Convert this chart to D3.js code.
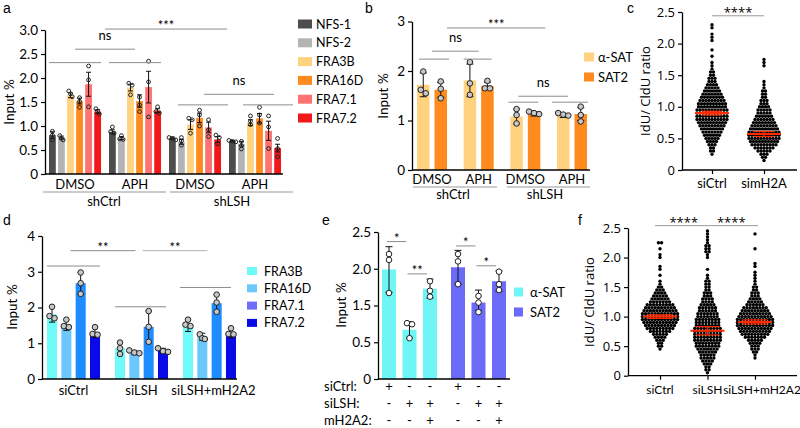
<!DOCTYPE html>
<html><head><meta charset="utf-8">
<script src="https://cdn.jsdelivr.net/npm/d3@7"></script>
<style>body{margin:0;background:#fff}svg{display:block}</style>
</head><body>
<svg id="chart" width="800" height="428"></svg>
<script>
// ---------------- DATA ----------------
// Panel a
const aGroups = ["shCtrl|DMSO","shCtrl|APH","shLSH|DMSO","shLSH|APH"];
const aSeries = ["NFS-1","NFS-2","FRA3B","FRA16D","FRA7.1","FRA7.2"];
const aColors = ["#4d4d4d","#b4b4b4","#ffd27f","#ff8a1e","#ff7272","#f01818"];
const aMeans = [[0.81,0.76,1.64,1.52,1.87,1.30],[0.88,0.75,1.80,1.52,1.81,1.32],[0.75,0.67,1.03,1.17,0.97,0.72],[0.69,0.63,1.07,1.16,0.90,0.54]];
const aErrs  = [[0.07,0.03,0.05,0.06,0.25,0.04],[0.04,0.03,0.07,0.13,0.33,0.04],[0.02,0.05,0.10,0.10,0.11,0.06],[0.01,0.05,0.06,0.10,0.20,0.08]];
const aReps = [
  [[0.89,0.81,0.71],[0.80,0.74,0.71],[1.73,1.67,1.61],[1.59,1.51,1.39],[2.25,1.96,1.40],[1.36,1.31,1.25]],
  [[0.98,0.88,0.85],[0.80,0.73,0.72],[1.89,1.85,1.65],[1.60,1.44,1.30],[2.35,1.92,1.19],[1.40,1.30,1.27]],
  [[0.76,0.74,0.71],[0.76,0.69,0.60],[1.16,1.13,0.85],[1.33,1.23,1.00],[1.13,0.92,0.78],[0.81,0.76,0.63]],
  [[0.70,0.68,0.67],[0.68,0.59,0.52],[1.21,1.10,1.03],[1.39,1.23,1.06],[1.21,0.98,0.53],[0.74,0.53,0.36]]
];
const aTicks = [0,0.5,1,1.5,2,2.5,3];
// Panel b
const bGroups = ["shCtrl|DMSO","shCtrl|APH","shLSH|DMSO","shLSH|APH"];
const bSeries = ["α-SAT","SAT2"];
const bColors = ["#ffd27f","#ff8a1e"];
const bMeans = [[1.72,1.62],[1.81,1.70],[1.08,1.13],[1.09,1.13]];
const bErrs  = [[0.24,0.15],[0.33,0.07],[0.15,0.04],[0.03,0.13]];
const bReps = [
  [[1.99,1.62,1.55],[1.79,1.64,1.45]],
  [[2.18,1.75,1.52],[1.80,1.65,1.65]],
  [[1.23,1.11,0.94],[1.18,1.15,1.13]],
  [[1.15,1.12,1.10],[1.28,1.11,0.98]]
];
const bTicks = [0,1,2,3];
// Panel c
const cGroups = ["siCtrl","simH2A"];
const swarmBins = [0.05,0.10,0.15,0.20,0.25,0.30,0.35,0.40,0.45,0.50,0.55,0.60,0.65,0.70,0.75,0.80,0.85,0.90,0.95,1.00,
  1.05,1.10,1.15,1.20,1.25,1.30,1.35,1.40,1.45,1.50,1.55,1.60,1.65,1.70,1.75,1.80,1.85,1.90,1.95,2.00,
  2.05,2.10,2.15,2.20,2.25,2.30,2.35,2.40,2.45,2.50];
const cCounts = [
  [0,0,0,0,1,2,2,3,4,5, 6,7,8,9,10,11,11,11,11,10, 10,9,8,7,6,5,4,3,3,2, 2,1,1,1,0,1,0,1,0,0, 1,1,1,0,1,1,0,0,0,0],
  [0,0,1,2,3,5,7,9,10,11, 11,11,10,9,8,7,6,5,5,4, 3,3,2,2,2,1,1,1,0,0, 0,0,1,1,1,0,0,0,0,0, 0,0,0,0,0,0,0,0,0,0]
];
const cMeans = [0.90,0.57];
const cErrs = [0.03,0.04];
const cTicks = [0,0.5,1,1.5,2,2.5];
// Panel d
const dGroups = ["siCtrl","siLSH","siLSH+mH2A2"];
const dSeries = ["FRA3B","FRA16D","FRA7.1","FRA7.2"];
const dColors = ["#70fafa","#6cc8fc","#1c8cff","#0a0ae8"];
const dLegendColors = ["#70fafa","#6cc8fc","#6e6efa","#0a0ae8"];
const dMeans = [[1.81,1.51,2.68,1.31],[0.86,0.74,1.46,0.79],[1.50,1.18,2.12,1.28]];
const dErrs  = [[0.22,0.15,0.30,0.15],[0.16,0.06,0.44,0.07],[0.17,0.10,0.24,0.13]];
const dReps = [
  [[2.02,1.76,1.70],[1.66,1.48,1.45],[2.98,2.68,2.38],[1.45,1.26,1.24]],
  [[1.02,0.86,0.70],[0.80,0.74,0.72],[1.90,1.46,1.04],[0.86,0.78,0.76]],
  [[1.66,1.52,1.48],[1.25,1.14,1.12],[2.36,2.14,1.88],[1.42,1.26,1.25]]
];
const dTicks = [0,1,2,3,4];
// Panel e
const eGroups = ["α-SAT","SAT2"];
const eConds = ["c1","c2","c3"];
const eColors = ["#6ef6f6","#6b6bf8"];
const eMeans = [[1.99,0.84,1.73],[2.02,1.54,1.83]];
const eErrs  = [[0.31,0.22,0.13],[0.23,0.17,0.14]];
const eReps = [
  [[2.20,2.12,1.67],[1.02,0.99,0.61],[1.83,1.70,1.62]],
  [[2.20,2.10,1.79],[1.63,1.54,1.32],[1.96,1.79,1.71]]
];
const eTicks = [0,0.5,1.5,2.0,2.5];
const eRows = ["siCtrl:","siLSH:","mH2A2:"];
const eSigns = [["+","-","-"],["-","+","+"],["-","-","+"]];
// Panel f
const fGroups = ["siCtrl","siLSH","siLSH+mH2A2"];
const fCounts = [
  [0,0,0,0,0,0,0,0,1,2, 2,3,4,5,7,9,10,11,12,12, 12,11,10,9,7,6,5,4,3,2, 1,1,0,1,0,1,1,0,0,1, 1,0,1,0,2,0,0,0,0,0],
  [1,2,2,3,4,5,5,6,7,8, 8,9,9,9,9,9,8,8,8,7, 7,6,6,5,4,4,3,3,2,2, 2,2,1,1,0,1,0,0,0,1, 1,2,2,2,1,1,1,1,1,0],
  [0,0,0,0,0,1,1,2,3,3, 4,5,7,9,10,11,12,12,12,11, 10,9,8,6,5,4,3,3,2,2, 1,1,1,1,1,0,1,1,0,0, 0,0,1,0,0,0,0,1,0,0]
];
const fMeans = [1.00,0.76,0.91];
const fErrs = [0.03,0.07,0.035];
const fTicks = [0,0.5,1,1.5,2,2.5];

// ---------------- DRAWING ----------------
const svg = d3.select("#chart");
const FB = "Lato, 'Open Sans', sans-serif";   // bar panels
const FS = "'Open Sans', 'Noto Sans', sans-serif"; // scatter panels
const fmt1 = d => d === 0 ? "0" : d3.format(".1f")(d);

function txt(t, x, y, o = {}) {
  const el = svg.append("text").attr("x", x).attr("y", y).text(t)
    .attr("font-family", o.family || FB).attr("font-size", o.size || 13)
    .attr("text-anchor", o.anchor || "middle").attr("fill", o.fill || "#000");
  if (o.rotate) el.attr("transform", `rotate(-90,${x},${y})`);
  return el;
}
function line(x1, y1, x2, y2, stroke = "#000", sw = 1) {
  svg.append("line").attr("x1", x1).attr("y1", y1).attr("x2", x2).attr("y2", y2)
    .attr("stroke", stroke).attr("stroke-width", sw);
}
function yAxis(scale, x, ticks, fmt, fs, family) {
  const g = svg.append("g").attr("transform", `translate(${x},0)`)
    .call(d3.axisLeft(scale).tickValues(ticks).tickFormat(fmt).tickSize(4).tickSizeOuter(0));
  g.select(".domain").attr("stroke", "#000").attr("stroke-width", 1.3);
  g.selectAll(".tick line").attr("stroke", "#000").attr("stroke-width", 1.2);
  g.selectAll(".tick text").attr("font-size", fs).attr("font-family", family).attr("fill", "#000");
  return g;
}
function barSet(groups, series, colors, means, errs, reps, xo, xi, y, st) {
  groups.forEach((g, gi) => series.forEach((s, si) => {
    const m = means[gi][si], e = errs[gi][si];
    const x = xo(g) + xi(s), w = xi.bandwidth(), cx = x + w / 2;
    const col = st.byGroup ? colors[gi] : colors[si];
    svg.append("rect").attr("x", x).attr("y", y(m)).attr("width", w).attr("height", y(0) - y(m)).attr("fill", col);
    line(cx, y(m + e), cx, y(m - e), "#111", 1);
    line(cx - st.cap, y(m + e), cx + st.cap, y(m + e), "#111", 1);
    line(cx - st.cap, y(m - e), cx + st.cap, y(m - e), "#111", 1);
    const rv = reps[gi][si];
    rv.forEach((v, k) => {
      let dx = 0;
      rv.forEach((u, j) => { if (j !== k && Math.abs(y(u) - y(v)) < st.r * 1.6) dx += (k < j ? -1 : 1) * st.r * 0.9; });
      svg.append("circle").attr("cx", cx + dx).attr("cy", y(v)).attr("r", st.r)
        .attr("fill", st.dotFill).attr("stroke", "#222").attr("stroke-width", 1);
    });
  }));
}
function sigLine(x1, x2, yv, label, lab, col = "#8c8c8c", fs = 13) {
  line(x1, yv, x2, yv, col, 1);
  if (label) {
    const star = label.includes("*");
    txt(label, (x1 + x2) / 2 + (lab || 0), star ? yv + 1 : yv - 9, { size: fs, family: FB });
  }
}
function swarm(counts, cx, y, dx, r) {
  counts.forEach((n, i) => {
    const v = swarmBins[i];
    for (let k = 0; k < n; k++) {
      svg.append("circle").attr("cx", cx + (k - (n - 1) / 2) * dx).attr("cy", y(v)).attr("r", r).attr("fill", "#000");
    }
  });
}
function meanBar(cx, y, m, e, half, cap) {
  const red = "#ff2a00";
  line(cx - half, y(m), cx + half, y(m), red, 2);
  line(cx, y(m + e), cx, y(m - e), red, 1.2);
  line(cx - cap, y(m + e), cx + cap, y(m + e), red, 1.2);
  line(cx - cap, y(m - e), cx + cap, y(m - e), red, 1.2);
}

// ---- panel letters
[["a", 3, 13], ["b", 365, 13], ["c", 627, 13], ["d", 3, 225], ["e", 322, 225], ["f", 578, 225]]
  .forEach(([t, x, y]) => txt(t, x, y, { anchor: "start", size: 14, family: "'Liberation Sans', Arial, sans-serif" }));

// ---- Panel a
{
  const y = d3.scaleLinear().domain([0, 3]).range([174, 30]);
  const xo = d3.scaleBand().domain(aGroups).range([49, 281]).paddingInner(0.133);
  const xi = d3.scaleBand().domain(aSeries).range([0, xo.bandwidth()]).paddingInner(0.25);
  barSet(aGroups, aSeries, aColors, aMeans, aErrs, aReps, xo, xi, y, { cap: 2.5, r: 1.9, dotFill: "none" });
  yAxis(y, 45, aTicks, fmt1, 13.5, FB);
  line(45, 174, 283, 174, "#000", 1.3);
  txt("Input %", 14, 102, { rotate: true, size: 13.5 });
  const bw = xo.bandwidth(), c = g => xo(g) + bw / 2;
  aGroups.forEach(g => txt(g.split("|")[1], c(g), 189, { size: 13 }));
  line(43, 192, 166, 192, "#999", 1); line(170, 192, 293, 192, "#999", 1);
  txt("shCtrl", 104, 206); txt("shLSH", 232, 206);
  sigLine(xo(aGroups[0]), xo(aGroups[0]) + bw, y(2.32));
  sigLine(xo(aGroups[1]), xo(aGroups[1]) + bw, y(2.32));
  sigLine(c(aGroups[0]), c(aGroups[1]), y(2.60), "ns");
  sigLine((c(aGroups[0]) + c(aGroups[1])) / 2, (c(aGroups[2]) + c(aGroups[3])) / 2 + 2, y(3.02), "***");
  sigLine(xo(aGroups[2]) + 9, xo(aGroups[2]) + bw + 7, y(1.44));
  sigLine(xo(aGroups[3]) + 14, xo(aGroups[3]) + bw + 12, y(1.44));
  sigLine(c(aGroups[2]) + 9, c(aGroups[3]) + 19, y(1.66), "ns");
  aSeries.forEach((s, i) => {
    const yy = 24 + i * 18.8;
    svg.append("rect").attr("x", 298).attr("y", yy - 4.5).attr("width", 14).attr("height", 9).attr("fill", aColors[i]);
    txt(s, 316, yy + 4.5, { anchor: "start", size: 12.5 });
  });
}

// ---- Panel b
{
  const y = d3.scaleLinear().domain([0, 3]).range([170, 21.5]);
  const xo = d3.scaleBand().domain(bGroups).range([417, 587]).paddingInner(0.357);
  const xi = d3.scaleBand().domain(bSeries).range([0, xo.bandwidth()]).paddingInner(0.286);
  barSet(bGroups, bSeries, bColors, bMeans, bErrs, bReps, xo, xi, y, { cap: 3.5, r: 2.8, dotFill: "#c8c8c8" });
  yAxis(y, 412, bTicks, d => d, 13.5, FB);
  line(412, 170, 590, 170, "#000", 1.3);
  txt("Input %", 388, 96, { rotate: true, size: 13.5 });
  const bw = xo.bandwidth(), c = g => xo(g) + bw / 2;
  bGroups.forEach(g => txt(g.split("|")[1], c(g), 184, { size: 13 }));
  line(413, 187, 497, 187, "#999", 1); line(507, 187, 590, 187, "#999", 1);
  txt("shCtrl", 453, 199); txt("shLSH", 545, 199);
  sigLine(xo(bGroups[0]) + 2, xo(bGroups[0]) + bw + 2, y(2.24));
  sigLine(xo(bGroups[1]), xo(bGroups[1]) + bw - 2, y(2.24));
  sigLine(c(bGroups[0]), c(bGroups[1]), y(2.40), "ns");
  sigLine(xo(bGroups[0]) + bw, xo(bGroups[2]) + bw + 5, y(2.87), "***");
  sigLine(xo(bGroups[2]) - 2, xo(bGroups[2]) + bw - 2, y(1.37));
  sigLine(xo(bGroups[3]) - 5, xo(bGroups[3]) + bw + 1, y(1.37));
  sigLine(c(bGroups[2]) - 7, c(bGroups[3]) - 4, y(1.49), "ns");
  bSeries.forEach((s, i) => {
    const yy = 57 + i * 20;
    svg.append("rect").attr("x", 584).attr("y", yy - 4.5).attr("width", 10).attr("height", 9).attr("fill", bColors[i]);
    txt(s, 598, yy + 4.5, { anchor: "start", size: 13 });
  });
}

// ---- Panel c
{
  const y = d3.scaleLinear().domain([0, 2.5]).range([170, 12]);
  const x = d3.scalePoint().domain(cGroups).range([712, 764]);
  cGroups.forEach((g, i) => swarm(cCounts[i], x(g), y, 3.0, 1.7));
  cGroups.forEach((g, i) => meanBar(x(g), y, cMeans[i], cErrs[i], 17, 10));
  yAxis(y, 682, cTicks, fmt1, 13, FS);
  const gx = svg.append("g").attr("transform", "translate(0,170)")
    .call(d3.axisBottom(x).tickSize(4).tickSizeOuter(0).tickFormat(""));
  gx.select(".domain").remove();
  gx.selectAll(".tick line").attr("stroke", "#000").attr("stroke-width", 1.2);
  line(682, 170, 797, 170, "#000", 1.3);
  cGroups.forEach(g => txt(g, x(g), 188, { size: 13, family: FB }));
  txt("IdU/ CldU ratio", 650, 91, { rotate: true, size: 13, family: FS });
  line(x(cGroups[0]), y(2.44), x(cGroups[1]), y(2.44), "#999", 1);
  txt("****", (x(cGroups[0]) + x(cGroups[1])) / 2, y(2.44) + 1, { size: 13, family: FS });
}

// ---- Panel d
{
  const y = d3.scaleLinear().domain([0, 4]).range([379, 236]);
  const xo = d3.scaleBand().domain(dGroups).range([47, 236]).paddingInner(0.22);
  const xi = d3.scaleBand().domain(dSeries).range([0, xo.bandwidth()]).paddingInner(0.30);
  barSet(dGroups, dSeries, dColors, dMeans, dErrs, dReps, xo, xi, y, { cap: 3, r: 2.8, dotFill: "#c8c8c8" });
  yAxis(y, 42, dTicks, d => d, 13.5, FB);
  line(42, 379, 237, 379, "#000", 1.3);
  txt("Input %", 17, 307, { rotate: true, size: 13.5 });
  const bw = xo.bandwidth(), c = g => xo(g) + bw / 2;
  dGroups.forEach((g, i) => txt(g, c(g) + (i === 2 ? 4 : 0), 395, { size: 13 }));
  sigLine(xo(dGroups[0]), xo(dGroups[0]) + bw, y(3.16));
  sigLine(xo(dGroups[1]), xo(dGroups[1]) + bw - 2, y(2.02));
  sigLine(xo(dGroups[2]) - 3, xo(dGroups[2]) + bw - 5, y(2.56));
  sigLine(c(dGroups[0]) - 3, c(dGroups[1]) - 6, y(3.59), "**");
  sigLine(c(dGroups[1]) + 1, c(dGroups[2]) - 2, y(3.59), "**", 0, "#b4b4b4");
  dSeries.forEach((s, i) => {
    const yy = 271 + i * 17.3;
    svg.append("rect").attr("x", 247).attr("y", yy - 4).attr("width", 10).attr("height", 8).attr("fill", dLegendColors[i]);
    txt(s, 264, yy + 4.5, { anchor: "start", size: 12.5 });
  });
}

// ---- Panel e
{
  const y = d3.scaleLinear().domain(eTicks).range(eTicks.map((d, i) => 379 - i * 36.75));
  const xo = d3.scaleBand().domain(eGroups).range([382, 506]).paddingInner(0.203);
  const xi = d3.scaleBand().domain(eConds).range([0, xo.bandwidth()]).paddingInner(0.317);
  barSet(eGroups, eConds, eColors, eMeans, eErrs, eReps, xo, xi, y, { cap: 3.5, r: 2.8, dotFill: "#fff", byGroup: true });
  yAxis(y, 378, eTicks, fmt1, 13.5, FB);
  line(378, 379, 510, 379, "#000", 1.3);
  txt("Input %", 346, 305, { rotate: true, size: 13.5 });
  const cx = (g, k) => xo(g) + xi(eConds[k]) + xi.bandwidth() / 2;
  eRows.forEach((r, ri) => {
    const yy = 391 + ri * 16.8;
    txt(r, 324, yy, { anchor: "start", size: 13 });
    eGroups.forEach(g => eConds.forEach((cnd, k) => txt(eSigns[ri][k], cx(g, k), yy, { size: 13 })));
  });
  const sigE = [[0, 0, 1, 2.37, "*"], [0, 1, 2, 1.93, "**"], [1, 0, 1, 2.31, "*"], [1, 1, 2, 2.04, "*"]];
  sigE.forEach(([g, k1, k2, v, l]) => sigLine(cx(eGroups[g], k1) - 2, cx(eGroups[g], k2) - 3, y(v), l));
  eGroups.forEach((s, i) => {
    const yy = 292 + i * 20;
    svg.append("rect").attr("x", 514).attr("y", yy - 4.5).attr("width", 9).attr("height", 9).attr("fill", eColors[i]);
    txt(s, 530, yy + 4.5, { anchor: "start", size: 13 });
  });
}

// ---- Panel f
{
  const y = d3.scaleLinear().domain([0, 2.5]).range([375.7, 228]);
  const x = d3.scalePoint().domain(fGroups).range([660, 755]);
  fGroups.forEach((g, i) => swarm(fCounts[i], x(g), y, 3.2, 1.7));
  fGroups.forEach((g, i) => meanBar(x(g), y, fMeans[i], fErrs[i], 17, 12));
  yAxis(y, 628, fTicks, fmt1, 13, FS);
  const gx = svg.append("g").attr("transform", "translate(0,375.7)")
    .call(d3.axisBottom(x).tickSize(4).tickSizeOuter(0).tickFormat(""));
  gx.select(".domain").remove();
  gx.selectAll(".tick line").attr("stroke", "#000").attr("stroke-width", 1.2);
  line(628, 375.7, 797, 375.7, "#000", 1.3);
  fGroups.forEach((g, i) => txt(g, x(g) + (i === 2 ? 7 : 0), 394, { size: 12, family: FB }));
  txt("IdU/ CldU ratio", 594, 302, { rotate: true, size: 13, family: FS });
  line(x(fGroups[0]) - 5, y(2.54), x(fGroups[1]), y(2.54), "#999", 1);
  line(x(fGroups[1]), y(2.54), x(fGroups[2]) + 3, y(2.54), "#999", 1);
  txt("****", (x(fGroups[0]) + x(fGroups[1])) / 2, y(2.54) + 1, { size: 13, family: FS });
  txt("****", (x(fGroups[1]) + x(fGroups[2])) / 2, y(2.54) + 1, { size: 13, family: FS });
}
</script>
</body></html>
